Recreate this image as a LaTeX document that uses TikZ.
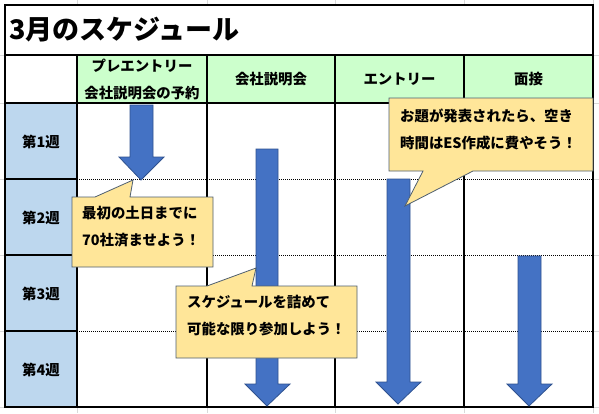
\documentclass[tikz,border=0pt]{standalone}
\usepackage{fontspec}
\newfontfamily\jp{Noto Sans CJK JP}
\definecolor{gridgray}{HTML}{D9D9D9}
\definecolor{hdrgreen}{HTML}{CCFFCC}
\definecolor{weekblue}{HTML}{BDD7EE}
\definecolor{arrowblue}{HTML}{4472C4}
\definecolor{arrowedge}{HTML}{2F528F}
\definecolor{notefill}{HTML}{FFE699}
\definecolor{noteedge}{HTML}{4F5F6F}
\begin{document}
\begin{tikzpicture}[x=1pt,y=-1pt,
  tline/.style={line width=1.1pt,black},
  dline/.style={line width=1pt,black,dash pattern=on 1pt off 1pt},
  blockarrow/.style={fill=arrowblue,draw=arrowedge,line width=0.8pt,line join=miter},
  callout/.style={fill=notefill,draw=noteedge,line width=0.8pt,line join=miter},
  jptext/.style={font=\jp\bfseries\fontsize{14.4}{27}\selectfont,inner sep=0pt},
  notetext/.style={jptext,align=left,anchor=west},
  celltext/.style={jptext,align=center,anchor=center}]
\useasboundingbox (0,0) rectangle (599,413);
\fill[white] (0,0) rectangle (599,413);
% faint spreadsheet grid
\foreach \gx in {77,207,335,464,593} \draw[gridgray,line width=0.6pt] (\gx,0) -- (\gx,413);
\foreach \gy in {55,103,179,255,331,407} \draw[gridgray,line width=0.6pt] (0,\gy) -- (599,\gy);
% table fills
\fill[white] (5,5) rectangle (593,407);
\fill[hdrgreen] (77,55) rectangle (593,103);
\fill[weekblue] (5,103) rectangle (77,407);
% dotted week separators
\foreach \gy in {179,255,331} {
  \draw[dline] (77,\gy) -- (593,\gy);
  \draw[tline] (5,\gy) -- (77,\gy);
}
% solid lines
\draw[tline] (5,55) -- (593,55);
\draw[tline] (5,103) -- (593,103);
\foreach \gx in {77,207,335,464} \draw[tline] (\gx,55) -- (\gx,407);
\draw[tline] (5,5) rectangle (593,407);
% title
\node[jptext,anchor=west,font=\jp\bfseries\fontsize{27}{30}\selectfont] (title) at (9,30) {3月のスケジュール};
% header texts
\node[celltext] (h1) at (142,79.5) {プレエントリー\\会社説明会の予約};
\node[celltext] (h2) at (271,79.5) {会社説明会};
\node[celltext] (h3) at (399.5,79.5) {エントリー};
\node[celltext] (h4) at (528.5,79.5) {面接};
% week labels
\node[celltext] (w1) at (41,142) {第1週};
\node[celltext] (w2) at (41,218) {第2週};
\node[celltext] (w3) at (41,294) {第3週};
\node[celltext] (w4) at (41,370) {第4週};
% block arrows
\draw[blockarrow] (130,105) -- (153,105) -- (153,157) -- (164,157) -- (141,180) -- (119,157) -- (130,157) -- cycle;
\draw[blockarrow] (256,149) -- (278,149) -- (278,384) -- (290,384) -- (267,406) -- (245,384) -- (256,384) -- cycle;
\draw[blockarrow] (387,179) -- (410,179) -- (410,382) -- (421,382) -- (398,404) -- (376,382) -- (387,382) -- cycle;
\draw[blockarrow] (518,256) -- (541,256) -- (541,384) -- (552,384) -- (529,406) -- (507,384) -- (518,384) -- cycle;
% callouts
\draw[callout] (72,197) -- (95,197) -- (133,180) -- (130,197) -- (213,197) -- (213,267) -- (72,267) -- cycle;
\node[notetext] (n1) at (82,227) {最初の土日までに\\70社済ませよう！};
\draw[callout] (389,98) -- (593,98) -- (593,171) -- (473,171) -- (405,206) -- (423,171) -- (389,171) -- cycle;
\node[notetext] (n2) at (400,129) {お題が発表されたら、空き\\時間はES作成に費やそう！};
\draw[callout] (176,286) -- (207,286) -- (256,268) -- (252,286) -- (357,286) -- (357,358) -- (176,358) -- cycle;
\node[notetext] (n3) at (187,315.5) {スケジュールを詰めて\\可能な限り参加しよう！};
\end{tikzpicture}
\end{document}
